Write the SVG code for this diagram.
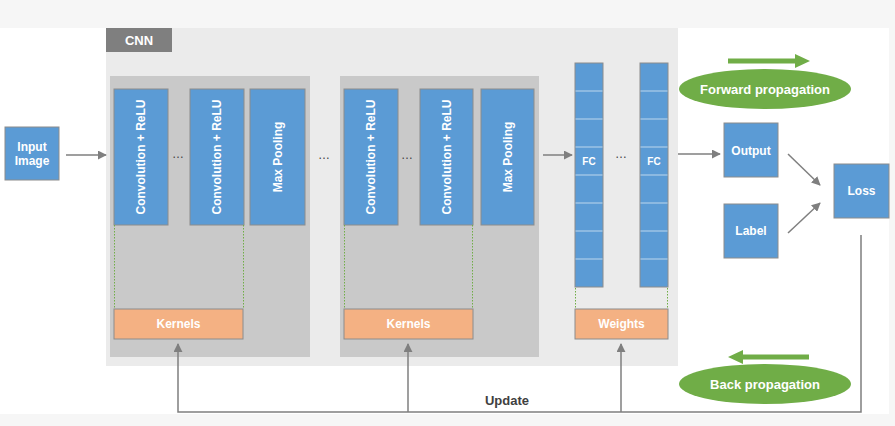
<svg xmlns="http://www.w3.org/2000/svg" width="895" height="426" viewBox="0 0 895 426">
<defs>
<style>
.blue{fill:#5b9bd5;stroke:#8c8c8c;stroke-width:1}
.orange{fill:#f4b183;stroke:#8c8c8c;stroke-width:1}
.t{font-family:"Liberation Sans",Arial,sans-serif;font-weight:bold;font-size:12px;fill:#ffffff;text-anchor:middle}
.dk{font-family:"Liberation Sans",Arial,sans-serif;font-weight:bold;font-size:13px;fill:#404040;text-anchor:middle}
.conn{stroke:#7f7f7f;stroke-width:1.5;fill:none}
.dot{stroke:#70ad47;stroke-width:1;stroke-dasharray:1.5,1.5;fill:none}
.div{stroke:#bdd7ee;stroke-width:1.2}
.dots{font-family:"Liberation Sans",Arial,sans-serif;font-size:12px;fill:#404040;text-anchor:middle}
</style>
<marker id="ah" viewBox="0 0 10 10" refX="9" refY="5" markerWidth="9" markerHeight="9" markerUnits="userSpaceOnUse" orient="auto">
<path d="M0,0 L10,5 L0,10 z" fill="#7f7f7f"/>
</marker>
</defs>
<rect x="0" y="0" width="895" height="426" fill="#f6f6f6"/>
<rect x="0" y="28" width="889" height="386" fill="#ffffff"/>

<g id="cnn">
<rect x="106" y="28" width="572" height="338" fill="#ebebeb"/>
<rect x="106" y="28" width="66" height="24" fill="#7f7f7f"/>
<text x="139" y="45" class="t" style="font-size:13px">CNN</text>
</g>

<g id="group1">
<rect x="110" y="76" width="200" height="281" fill="#c9c9c9"/>
</g>
<g id="group2">
<rect x="340" y="76" width="199" height="281" fill="#c9c9c9"/>
</g>

<g id="input">
<rect x="5" y="127" width="54" height="53" class="blue"/>
<text x="32" y="151" class="t">Input</text>
<text x="32" y="165" class="t">Image</text>
</g>

<g id="conv1">
<rect x="114" y="89" width="54" height="136" class="blue"/>
<text class="t" transform="translate(145,157) rotate(-90)">Convolution + ReLU</text>
</g>
<g id="conv2">
<rect x="190" y="89" width="54" height="136" class="blue"/>
<text class="t" transform="translate(221,157) rotate(-90)">Convolution + ReLU</text>
</g>
<g id="pool1">
<rect x="250" y="89" width="55" height="136" class="blue"/>
<text class="t" transform="translate(281.5,157) rotate(-90)">Max Pooling</text>
</g>
<g id="conv3">
<rect x="344" y="89" width="54" height="136" class="blue"/>
<text class="t" transform="translate(375,157) rotate(-90)">Convolution + ReLU</text>
</g>
<g id="conv4">
<rect x="420" y="89" width="53" height="136" class="blue"/>
<text class="t" transform="translate(450.5,157) rotate(-90)">Convolution + ReLU</text>
</g>
<g id="pool2">
<rect x="481" y="89" width="53" height="136" class="blue"/>
<text class="t" transform="translate(511.5,157) rotate(-90)">Max Pooling</text>
</g>

<g id="kernels1">
<path class="dot" d="M114.5,225 V309 M243.5,225 V309"/>
<rect x="114" y="309" width="129" height="30" class="orange"/>
<text x="178.5" y="328" class="t">Kernels</text>
</g>
<g id="kernels2">
<path class="dot" d="M344.5,225 V309 M472.5,225 V309"/>
<rect x="344" y="309" width="129" height="30" class="orange"/>
<text x="408.5" y="328" class="t">Kernels</text>
</g>

<g id="fc1">
<rect x="575" y="63" width="28" height="224" class="blue"/>
<path class="div" d="M575.5,91H602.5M575.5,119H602.5M575.5,147H602.5M575.5,175H602.5M575.5,203H602.5M575.5,231H602.5M575.5,259H602.5"/>
<text x="589" y="165" class="t" style="font-size:10px">FC</text>
</g>
<g id="fc2">
<rect x="640" y="63" width="28" height="224" class="blue"/>
<path class="div" d="M640.5,91H667.5M640.5,119H667.5M640.5,147H667.5M640.5,175H667.5M640.5,203H667.5M640.5,231H667.5M640.5,259H667.5"/>
<text x="654" y="165" class="t" style="font-size:10px">FC</text>
</g>
<g id="weights">
<path class="dot" d="M575.5,288 V309 M667.5,288 V309"/>
<rect x="575" y="309" width="93" height="30" class="orange"/>
<text x="621.5" y="328" class="t">Weights</text>
</g>

<g id="output">
<rect x="724" y="123" width="54" height="54" class="blue"/>
<text x="751" y="155" class="t">Output</text>
</g>
<g id="label">
<rect x="724" y="204" width="54" height="54" class="blue"/>
<text x="751" y="235" class="t">Label</text>
</g>
<g id="loss">
<rect x="834" y="164" width="55" height="54" class="blue"/>
<text x="861.5" y="195" class="t">Loss</text>
</g>

<g id="forward">
<line x1="728" y1="61" x2="796" y2="61" stroke="#70ad47" stroke-width="5"/>
<path d="M795,54 L810,61 L795,68 z" fill="#70ad47"/>
<ellipse cx="765" cy="89" rx="86" ry="20" fill="#70ad47"/>
<text x="765" y="93.5" class="t" style="font-size:13px">Forward propagation</text>
</g>
<g id="back">
<line x1="742" y1="357" x2="809" y2="357" stroke="#70ad47" stroke-width="5"/>
<path d="M743,350 L728,357 L743,364 z" fill="#70ad47"/>
<ellipse cx="765" cy="384" rx="86" ry="20" fill="#70ad47"/>
<text x="765" y="388.5" class="t" style="font-size:13px">Back propagation</text>
</g>

<g id="dots">
<text x="178" y="158" class="dots" fill="#404040">…</text>
<text x="324" y="159" class="dots" fill="#404040">…</text>
<text x="407" y="159" class="dots" fill="#404040">…</text>
<text x="621" y="158" class="dots" fill="#404040">…</text>
</g>

<g id="connectors">
<line x1="66" y1="155" x2="106" y2="155" class="conn" marker-end="url(#ah)"/>
<line x1="543" y1="155" x2="572" y2="155" class="conn" marker-end="url(#ah)"/>
<line x1="678" y1="154" x2="720" y2="154" class="conn" marker-end="url(#ah)"/>
<line x1="788" y1="154" x2="820" y2="185" class="conn" marker-end="url(#ah)"/>
<line x1="788" y1="233" x2="820" y2="203" class="conn" marker-end="url(#ah)"/>
<polyline points="861,235 861,412 178,412 178,344" class="conn" marker-end="url(#ah)"/>
<line x1="408" y1="412" x2="408" y2="344" class="conn" marker-end="url(#ah)"/>
<line x1="621" y1="412" x2="621" y2="344" class="conn" marker-end="url(#ah)"/>
<text x="507" y="405" class="dk">Update</text>
</g>
</svg>
